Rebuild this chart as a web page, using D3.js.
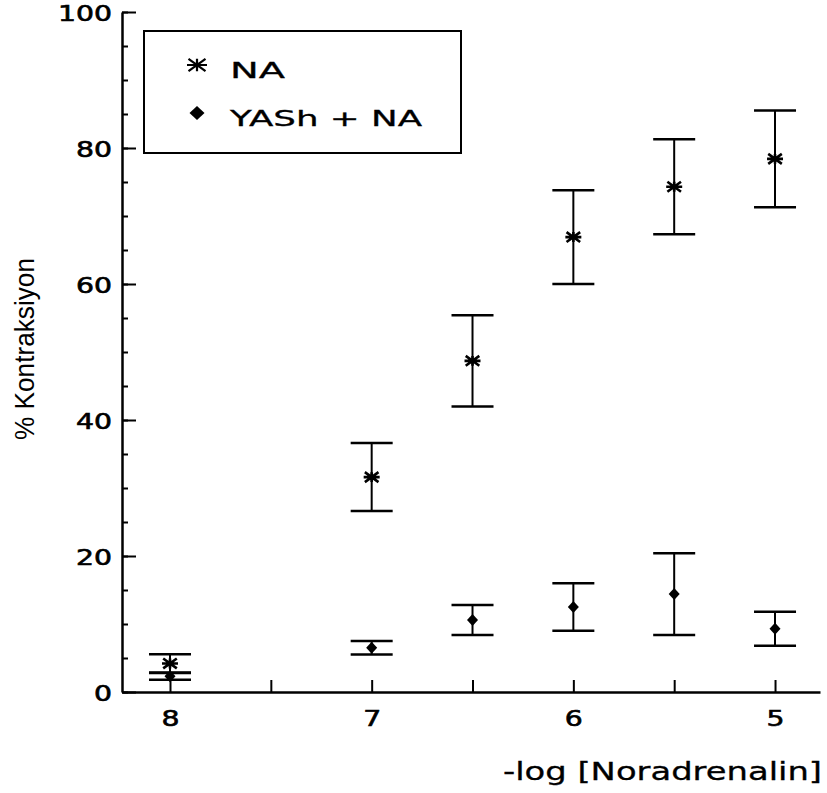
<!DOCTYPE html>
<html>
<head>
<meta charset="utf-8">
<script src="https://cdn.jsdelivr.net/npm/d3@7"></script>
<style>
  html, body { margin: 0; padding: 0; background: #fff; }
  svg { display: block; }
  text { fill: #000; }
</style>
</head>
<body>
<svg id="chart" width="827" height="793"></svg>
<script>
// Concentrations (-log M) and responses (% contraction, mean ± error)
const doses = [8, 7, 6.5, 6, 5.5, 5];
const naMean = [4.2, 31.6, 48.7, 66.9, 74.3, 78.4];
const naErr = [1.35, 5.0, 6.7, 6.9, 7.0, 7.1];
const yashMean = [2.3, 6.5, 10.6, 12.5, 14.4, 9.3];
const yashErr = [0.5, 1.0, 2.2, 3.5, 6.0, 2.5];

const xTicks = [8, 7.5, 7, 6.5, 6, 5.5, 5];
const xLabelTicks = [8, 7, 6, 5];
const yMajorTicks = [0, 20, 40, 60, 80, 100];
const yMinorTicks = d3.range(0, 101, 5);

const seriesNames = ["NA", "YASh+NA"];

const svg = d3.select("#chart");

const x = d3.scaleLinear().domain([8.238, 4.777]).range([122, 820]);
const y = d3.scaleLinear().domain([0, 100]).range([692, 12]);

const wideFont = "'DejaVu Sans', Verdana, sans-serif";
const digitW = 18; // wide, extended-style numerals

function styleTickText(sel) {
  sel.attr("font-family", wideFont)
    .attr("font-size", 20.5)
    .attr("stroke", "#000")
    .attr("stroke-width", 0.6)
    .attr("lengthAdjust", "spacingAndGlyphs")
    .attr("textLength", function () { return this.textContent.length * digitW; });
}

// Y axis: minor ticks
svg.append("g")
  .attr("transform", "translate(122,0)")
  .call(d3.axisLeft(y).tickValues(yMinorTicks).tickSize(-6).tickFormat(""))
  .call(g => g.select(".domain").remove())
  .call(g => g.selectAll("line").attr("stroke", "#000").attr("stroke-width", 2));

// Y axis: major ticks and labels
svg.append("g")
  .attr("transform", "translate(122,0)")
  .call(d3.axisLeft(y).tickValues(yMajorTicks).tickSize(-14).tickSizeOuter(0).tickPadding(10).tickFormat(d3.format("d")))
  .call(g => g.select(".domain").attr("stroke", "#000").attr("stroke-width", 2.5))
  .call(g => g.selectAll("line").attr("stroke", "#000").attr("stroke-width", 2))
  .call(g => g.selectAll("text").attr("dy", "0.42em").call(styleTickText));

// X axis
svg.append("g")
  .attr("transform", "translate(0,692)")
  .call(d3.axisBottom(x).tickValues(xTicks).tickSize(-12).tickSizeOuter(0).tickPadding(19)
    .tickFormat(d => xLabelTicks.includes(d) ? d3.format("d")(d) : ""))
  .call(g => g.select(".domain").attr("stroke", "#000").attr("stroke-width", 2.5))
  .call(g => g.selectAll("line").attr("stroke", "#000").attr("stroke-width", 2))
  .call(g => g.selectAll("text").call(styleTickText));

// Axis titles
svg.append("text")
  .attr("transform", "translate(34,349) rotate(-90)")
  .attr("text-anchor", "middle")
  .attr("font-family", "'Liberation Sans Narrow', 'Arial Narrow', sans-serif")
  .attr("font-size", 28)
  .attr("textLength", 182)
  .attr("lengthAdjust", "spacingAndGlyphs")
  .text("% Kontraksiyon");

svg.append("text")
  .attr("x", 503)
  .attr("y", 780)
  .attr("font-family", wideFont)
  .attr("font-size", 24)
  .attr("stroke", "#000")
  .attr("stroke-width", 0.3)
  .attr("textLength", 319)
  .attr("lengthAdjust", "spacingAndGlyphs")
  .text("-log [Noradrenalin]");

// Marker shapes
function starPath(s) {
  const h = s * 0.62;
  return `M${-s},0L${s},0M0,${-h}L0,${h}M${-s * 0.85},${-h}L${s * 0.85},${h}M${-s * 0.85},${h}L${s * 0.85},${-h}`;
}
function diamondPath(w, h) {
  return `M0,${-h}L${w},0L0,${h}L${-w},0Z`;
}

// Error bars + markers
function drawSeries(means, errs, kind) {
  const data = doses.map((d, i) => ({ dose: d, mean: means[i], err: errs[i] }));
  const g = svg.append("g");
  const capW = 21;
  const items = g.selectAll("g.pt").data(data).join("g").attr("class", "pt");
  items.append("line")
    .attr("x1", d => x(d.dose)).attr("x2", d => x(d.dose))
    .attr("y1", d => y(d.mean + d.err)).attr("y2", d => y(d.mean - d.err))
    .attr("stroke", "#000").attr("stroke-width", 2);
  items.append("line")
    .attr("x1", d => x(d.dose) - capW).attr("x2", d => x(d.dose) + capW)
    .attr("y1", d => y(d.mean + d.err)).attr("y2", d => y(d.mean + d.err))
    .attr("stroke", "#000").attr("stroke-width", 2.5);
  items.append("line")
    .attr("x1", d => x(d.dose) - capW).attr("x2", d => x(d.dose) + capW)
    .attr("y1", d => y(d.mean - d.err)).attr("y2", d => y(d.mean - d.err))
    .attr("stroke", "#000").attr("stroke-width", 2.5);
  if (kind === "star") {
    items.append("path")
      .attr("transform", d => `translate(${x(d.dose)},${y(d.mean)})`)
      .attr("d", starPath(8))
      .attr("stroke", "#000").attr("stroke-width", 2.6).attr("fill", "none");
  } else {
    items.append("path")
      .attr("transform", d => `translate(${x(d.dose)},${y(d.mean)})`)
      .attr("d", diamondPath(5.5, 6))
      .attr("fill", "#000");
  }
}
drawSeries(naMean, naErr, "star");
drawSeries(yashMean, yashErr, "diamond");

// Legend
const legend = svg.append("g");
legend.append("rect")
  .attr("x", 144).attr("y", 31).attr("width", 317).attr("height", 122)
  .attr("fill", "#fff").attr("stroke", "#000").attr("stroke-width", 2);
legend.append("path")
  .attr("transform", "translate(197,65)")
  .attr("d", starPath(10))
  .attr("stroke", "#000").attr("stroke-width", 2.2).attr("fill", "none");
legend.append("path")
  .attr("transform", "translate(197,113)")
  .attr("d", diamondPath(7.5, 7))
  .attr("fill", "#000");
const legendWidths = [55, 192];
legend.selectAll("text.lg").data(seriesNames).join("text")
  .attr("class", "lg")
  .attr("x", 230)
  .attr("y", (d, i) => 78 + i * 48)
  .attr("font-family", wideFont)
  .attr("font-size", 22)
  .attr("stroke", "#000")
  .attr("stroke-width", 0.3)
  .attr("lengthAdjust", "spacingAndGlyphs")
  .attr("textLength", (d, i) => legendWidths[i])
  .text(d => d === "YASh+NA" ? "YASh + NA" : d);
</script>
</body>
</html>
